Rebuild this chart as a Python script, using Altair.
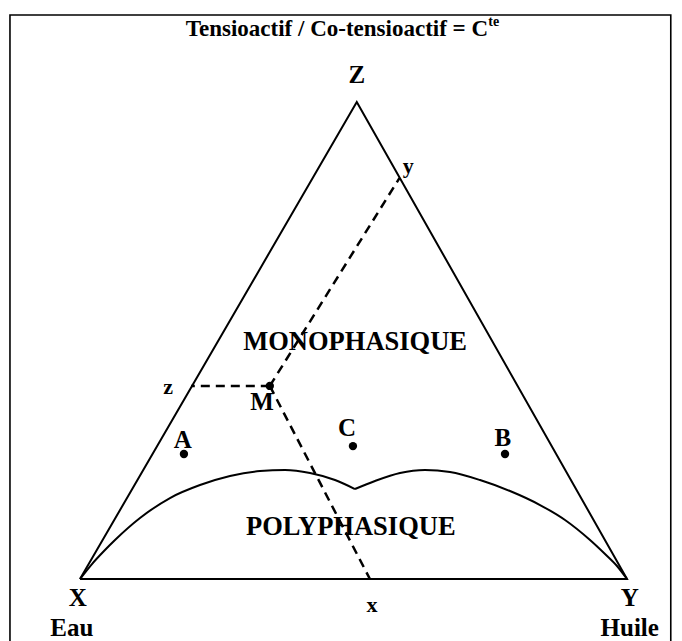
import altair as alt
import pandas as pd

# ---- diagram data (diagram units: base X-Y = 100) ----
# triangle vertices X (Eau), Y (Huile), Z (tensioactif), closed
tri_u = [0.0, 100.0, 50.6, 0.0]
tri_v = [0.0, 0.0, 87.2, 0.0]

# boundary of the polyphasic region: left and right lobes
left_u = [0.0, 2.19, 4.39, 6.40, 10.97, 16.45, 21.94, 27.42, 32.91, 37.48, 42.05, 46.62, 50.27]
left_v = [0.0, 2.74, 5.12, 7.13, 11.15, 14.81, 17.18, 18.83, 19.74, 19.93, 19.38, 18.10, 16.45]
right_u = [50.27, 53.93, 58.50, 63.07, 67.64, 73.13, 78.61, 84.10, 88.67, 93.24, 95.98, 98.17, 100.0]
right_v = [16.45, 17.92, 19.38, 19.93, 19.56, 18.10, 16.09, 13.53, 10.79, 7.13, 4.57, 2.38, 0.0]

# construction lines from M to z, y, x
m_u, m_v = 34.7, 35.3
seg_end_u = [20.3, 58.4, 53.0]
seg_end_v = [35.3, 73.3, 0.0]

# points
dot_names = ["M", "A", "C", "B"]
dot_u = [34.7, 19.0, 49.9, 77.7]
dot_v = [35.3, 22.85, 24.3, 22.85]

# labels
lab_text = ["Z", "X", "Y", "Eau", "Huile", "x", "y", "z", "M", "A", "C", "B",
            "MONOPHASIQUE", "POLYPHASIQUE"]
lab_u = [50.6, -0.4, 100.5, -1.5, 100.5, 53.4, 60.0, 16.1, 33.3, 18.8, 48.8, 77.3, 50.3, 49.5]
lab_v = [92.1, -3.5, -3.5, -9.0, -9.0, -4.75, 75.5, 35.1, 32.4, 25.4, 27.6, 25.8, 43.3, 9.5]
lab_size = [25, 25, 25, 25, 25, 22, 22, 22, 25, 25, 25, 25, 26.5, 26.5]

title_main = "Tensioactif / Co-tensioactif = C"
title_sup = "te"

# frame
frame_u = [-12.8]
frame_u2 = [108.0]
frame_v = [103.1]
frame_v2 = [-14.0]

# ---- build chart ----
xs = alt.Scale(domain=[-13.16, 108.59], nice=False, zero=False)
ys = alt.Scale(domain=[-11.33, 104.39], nice=False, zero=False)
FONT = "Liberation Serif"

frame_df = pd.DataFrame({"u": frame_u, "u2": frame_u2, "v": frame_v, "v2": frame_v2})
frame = alt.Chart(frame_df).mark_rect(fillOpacity=0, stroke="black", strokeWidth=1.6, clip=True).encode(
    x=alt.X("u:Q", scale=xs, axis=None), x2="u2:Q",
    y=alt.Y("v:Q", scale=ys, axis=None), y2="v2:Q")

tri_df = pd.DataFrame({"u": tri_u, "v": tri_v, "o": list(range(len(tri_u)))})
tri = alt.Chart(tri_df).mark_line(color="black", strokeWidth=2).encode(
    x=alt.X("u:Q", scale=xs, axis=None), y=alt.Y("v:Q", scale=ys, axis=None), order="o:O")

curve_df = pd.DataFrame({
    "u": left_u + right_u, "v": left_v + right_v,
    "lobe": ["L"] * len(left_u) + ["R"] * len(right_u),
    "o": list(range(len(left_u))) + list(range(len(right_u)))})
curve = alt.Chart(curve_df).mark_line(color="black", strokeWidth=2, interpolate="monotone").encode(
    x=alt.X("u:Q", scale=xs, axis=None), y=alt.Y("v:Q", scale=ys, axis=None),
    detail="lobe:N", order="o:O")

seg_df = pd.DataFrame({"u": [m_u] * 3, "v": [m_v] * 3, "u2": seg_end_u, "v2": seg_end_v})
segs = alt.Chart(seg_df).mark_rule(color="black", strokeWidth=2.5, strokeDash=[9, 6]).encode(
    x=alt.X("u:Q", scale=xs, axis=None), y=alt.Y("v:Q", scale=ys, axis=None), x2="u2:Q", y2="v2:Q")

dot_df = pd.DataFrame({"name": dot_names, "u": dot_u, "v": dot_v})
dots = alt.Chart(dot_df).mark_circle(color="black", opacity=1, size=70).encode(
    x=alt.X("u:Q", scale=xs, axis=None), y=alt.Y("v:Q", scale=ys, axis=None))

lab_df = pd.DataFrame({"t": lab_text, "u": lab_u, "v": lab_v, "s": lab_size})
labels = alt.Chart(lab_df).mark_text(font=FONT, fontWeight="bold", color="black",
                                     align="center", baseline="middle").encode(
    x=alt.X("u:Q", scale=xs, axis=None), y=alt.Y("v:Q", scale=ys, axis=None),
    text="t:N", size=alt.Size("s:Q", scale=None, legend=None))

title_df = pd.DataFrame({"t": [title_main], "u": [74.6], "v": [100.5]})
title = alt.Chart(title_df).mark_text(font=FONT, fontWeight="bold", fontSize=23, color="black",
                                      align="right", baseline="middle").encode(
    x=alt.X("u:Q", scale=xs, axis=None), y=alt.Y("v:Q", scale=ys, axis=None), text="t:N")

sup_df = pd.DataFrame({"t": [title_sup], "u": [74.65], "v": [101.8]})
sup = alt.Chart(sup_df).mark_text(font=FONT, fontWeight="bold", fontSize=14, color="black",
                                  align="left", baseline="middle").encode(
    x=alt.X("u:Q", scale=xs, axis=None), y=alt.Y("v:Q", scale=ys, axis=None), text="t:N")

chart = alt.layer(frame, tri, curve, segs, dots, labels, title, sup).properties(
    width=666, height=633, padding=0, autosize=alt.AutoSizeParams(type="none"),
    background="white"
).configure_view(stroke=None)

chart.save("out.html", embed_options={"renderer": "svg", "actions": False})
